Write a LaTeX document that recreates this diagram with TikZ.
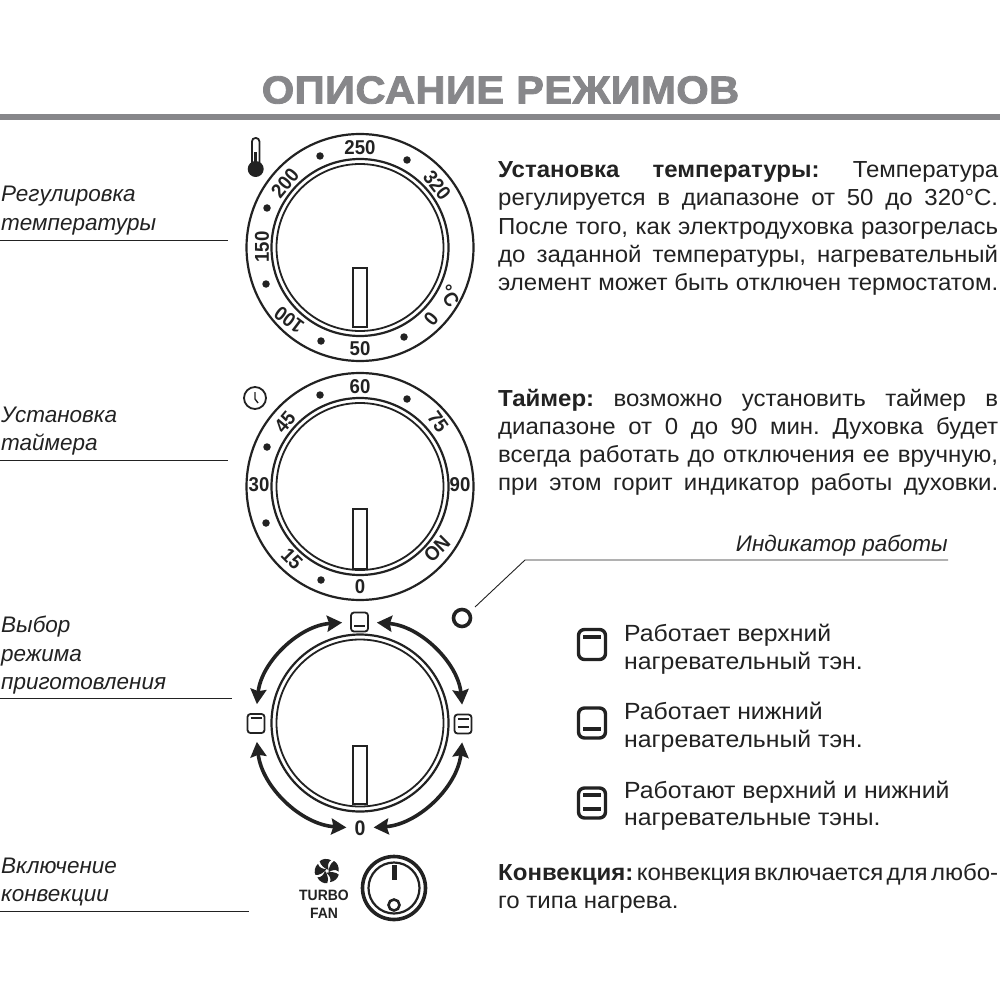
\documentclass[tikz,border=0pt]{standalone}
\usepackage{fontspec}
\usetikzlibrary{arrows.meta}
\setmainfont{Liberation Sans}
\newfontfamily\titlefont[FakeStretch=1.07,FakeBold=2.2,LetterSpace=1]{Liberation Sans Bold}
\newfontfamily\numfont[FakeStretch=0.93]{Liberation Sans Bold}
\newfontfamily\wide[FakeStretch=1.06]{Liberation Sans}
\newfontfamily\para[FakeStretch=1.035]{Liberation Sans}
\newfontfamily\parabold[FakeStretch=1.035]{Liberation Sans Bold}
\newcommand{\jl}[1]{\makebox[500pt][s]{#1}}
\newcommand{\bb}[1]{{\parabold #1}}
\definecolor{ink}{HTML}{222222}
\definecolor{headgray}{HTML}{87878A}
\tikzset{
  txt/.style={inner sep=0pt,anchor=base west,text=ink,font=\fontsize{23.4}{26}\selectfont\wide},
  ptxt/.style={inner sep=0pt,anchor=base west,text=ink,font=\fontsize{23.2}{26}\selectfont\para},
  lab/.style={inner sep=0pt,anchor=base west,text=ink,font=\fontsize{22.5}{26}\selectfont\itshape},
  num/.style={inner sep=0pt,text=ink,font=\fontsize{20}{22}\selectfont\numfont},
  ring/.style={draw=ink,line width=2.2pt},
  innerring/.style={draw=ink,line width=1.8pt},
  pointer/.style={draw=ink,fill=white,line width=2pt},
  dotmark/.style={fill=ink,circle,inner sep=0pt,minimum size=7.5pt},
  rule/.style={draw=ink,line width=0.9pt},
  smallicon/.style={draw=ink,fill=white,line width=1.8pt,rounded corners=3pt,minimum width=17pt,minimum height=19pt,inner sep=0pt},
  bigicon/.style={draw=ink,fill=white,line width=3.4pt,rounded corners=6pt,minimum width=27pt,minimum height=30pt,inner sep=0pt},
  dbl/.style={draw=ink,line width=3.6pt,{Stealth[length=15pt,width=16pt,inset=2pt]}-{Stealth[length=15pt,width=16pt,inset=2pt]}},
}
\begin{document}
\begin{tikzpicture}[x=1pt,y=-1pt]
\useasboundingbox (0,0) rectangle (1000,1000);
\fill[white] (0,0) rectangle (1000,1000);
% title
\node[inner sep=0pt,text=headgray,font=\fontsize{39}{44}\selectfont\titlefont] (title) at (500.5,90) {ОПИСАНИЕ РЕЖИМОВ};
\fill[headgray] (0,114.5) rectangle (1000,120);
% left labels
\node[lab] (l1a) at (1,202) {Регулировка};
\node[lab] (l1b) at (1,230) {температуры};
\draw[rule] (0,240.5) -- (228,240.5);
\node[lab] (l2a) at (1,422) {Установка};
\node[lab] (l2b) at (1,450) {таймера};
\draw[rule] (0,460.5) -- (228,460.5);
\node[lab] (l3a) at (1,632) {Выбор};
\node[lab] (l3b) at (1,661) {режима};
\node[lab] (l3c) at (1,689) {приготовления};
\draw[rule] (0,698.5) -- (232,698.5);
\node[lab] (l4a) at (1,873) {Включение};
\node[lab] (l4b) at (1,901) {конвекции};
\draw[rule] (0,911.5) -- (249,911.5);
% dial 1
\draw[ring] (360,247.5) circle (113.5);
\draw[ring] (360,247.5) circle (88.5);
\draw[innerring] (360,247.5) circle (83.5);
\draw[pointer] (353,268) rectangle (367,327);
\foreach \x/\y in {320/156,407/160,267/208,266/284,321/341,404/337}{\node[dotmark] at (\x,\y) {};}
\node[num] (a250) at (360,148) {250};
\node[num,rotate=-52] (a320) at (437,185) {320};
\node[num,rotate=50] (a200) at (285,183) {200};
\node[num,rotate=90] (a150) at (262,247) {150};
\node[num,rotate=143] (a100) at (289,320) {100};
\node[num,rotate=-130] (a0) at (431,319) {0};
\node[num,rotate=-58] (aC) at (449,296) {°C};
\node[num] (a50) at (360,349) {50};
% thermometer
\draw[ink,line width=1.8pt,fill=white,rounded corners=3.4pt] (252,166) -- (252,138) -- (259.4,138) -- (259.4,166);
\fill[ink] (255.7,169) circle (8);
\fill[ink] (254.2,152) rectangle (257.2,165);
% dial 2
\draw[ring] (360,486.5) circle (113.5);
\draw[ring] (360,486.5) circle (88.5);
\draw[innerring] (360,486.5) circle (83.5);
\draw[pointer] (353,509) rectangle (367,569);
\foreach \x/\y in {320/395,407/399,267/447,266/523,321/580}{\node[dotmark] at (\x,\y) {};}
\node[num] (b60) at (360,387) {60};
\node[num,rotate=-55] (b75) at (438,422) {75};
\node[num] (b90) at (460,485) {90};
\node[num,rotate=45] (bON) at (437,549) {ON};
\node[num] (b0) at (360,587) {0};
\node[num,rotate=-45] (b15) at (292,559) {15};
\node[num] (b30) at (259,485) {30};
\node[num,rotate=50] (b45) at (285,422) {45};
% clock
\draw[ink,line width=1.8pt] (255,398) circle (11);
\draw[ink,line width=1.4pt] (255,392) -- (255,399) -- (258,403);
% dial 3
\draw[ring] (360,723) circle (88.5);
\draw[innerring] (360,723) circle (83.5);
\draw[pointer] (353,746) rectangle (367,804);
% indicator
\draw[ink,line width=3.6pt] (462,618) circle (8.5);
\coordinate (indA) at (475,607);
\coordinate (indB) at (525,560);
\coordinate (indC) at (948,560);
\draw[rule] (indA) -- (indB) -- (indC);
\node[lab,anchor=base east] (ind) at (948,551) {Индикатор работы};
% mode icons
\node[smallicon] (top) at (359.5,622) {};
\draw[ink,line width=2pt] (354,626) -- (365,626);
\node[smallicon] (left) at (256,723.5) {};
\draw[ink,line width=2pt] (250.5,718) -- (261.5,718);
\node[smallicon] (right) at (463,724) {};
\draw[ink,line width=2pt] (457.5,719) -- (468.5,719);
\draw[ink,line width=2pt] (457.5,727) -- (468.5,727);
\node[num,font=\fontsize{21}{22}\selectfont\numfont] (zero) at (360,828) {0};
\draw[dbl,shorten <=8pt,shorten >=9pt] (top.west) to[bend right=40] (left.north);
\draw[dbl,shorten <=8pt,shorten >=9pt] (top.east) to[bend left=40] (right.north);
\draw[dbl,shorten <=8pt,shorten >=8pt] (left.south) to[bend right=40] (zero.west);
\draw[dbl,shorten <=8pt,shorten >=8pt] (right.south) to[bend left=40] (zero.east);
% right column
\node[ptxt] (p1a) at (498,178) {\jl{\bb{Установка\hfill температуры:}\hfill Температура}};
\node[ptxt] (p1b) at (498,206) {\jl{регулируется\hfill в\hfill диапазоне\hfill от\hfill 50\hfill до\hfill 320°С.}};
\node[ptxt] (p1c) at (498,234) {\jl{После\hfill того,\hfill как\hfill электродуховка\hfill разогрелась}};
\node[ptxt] (p1d) at (498,262) {\jl{до\hfill заданной\hfill температуры,\hfill нагревательный}};
\node[ptxt] (p1e) at (498,290) {\jl{элемент\hfill может\hfill быть\hfill отключен\hfill термостатом.}};
\node[ptxt] (p2a) at (498,406) {\jl{\bb{Таймер:}\hfill возможно\hfill установить\hfill таймер\hfill в}};
\node[ptxt] (p2b) at (498,434) {\jl{диапазоне\hfill от\hfill 0\hfill до\hfill 90\hfill мин.\hfill Духовка\hfill будет}};
\node[ptxt] (p2c) at (498,462) {\jl{всегда\hfill работать\hfill до\hfill отключения\hfill ее\hfill вручную,}};
\node[ptxt] (p2d) at (498,490) {\jl{при\hfill этом\hfill горит\hfill индикатор\hfill работы\hfill духовки.}};
% legend
\node[bigicon] (i1) at (592,644.5) {};
\draw[ink,line width=4pt] (583,637) -- (601,637);
\node[bigicon] (i2) at (592,723) {};
\draw[ink,line width=4pt] (583,729) -- (601,729);
\node[bigicon] (i3) at (592,803) {};
\draw[ink,line width=4pt] (583,795) -- (601,795);
\draw[ink,line width=4pt] (583,809) -- (601,809);
\node[txt] (g1a) at (624,641) {Работает верхний};
\node[txt] (g1b) at (624,669) {нагревательный тэн.};
\node[txt] (g2a) at (624,719) {Работает нижний};
\node[txt] (g2b) at (624,747) {нагревательный тэн.};
\node[txt] (g3a) at (624,798) {Работают верхний и нижний};
\node[txt] (g3b) at (624,825) {нагревательные тэны.};
\node[ptxt] (p3a) at (498,880) {\jl{\bb{Конвекция:}\hfill конвекция\hfill включается\hfill для\hfill любо-}};
\node[ptxt] (p3b) at (498,908) {го типа нагрева.};
% fan
\foreach \a in {0,72,...,288}{
  \fill[ink,shift={(327,871)},rotate=\a] (1.5,1.2) .. controls (1.5,-3) and (3.5,-8) .. (7,-10) .. controls (10,-8.5) and (12.5,-4) .. (11.5,0.5) .. controls (8.5,-2) and (5,-1) .. (1.5,1.2) -- cycle;
}
\node[inner sep=0pt,text=ink,font=\fontsize{15}{16}\selectfont\numfont] (turbo) at (324,895) {TURBO};
\node[inner sep=0pt,text=ink,font=\fontsize{15}{16}\selectfont\numfont] (fan) at (324,913) {FAN};
% switch
\draw[ink,line width=3.6pt] (394,888) circle (31.5);
\draw[ink,line width=2.2pt] (394,888) circle (25.5);
\draw[ink,line width=5pt] (394,865) -- (394,880);
\draw[ink,line width=2.6pt] (394,905) circle (5.5);
\end{tikzpicture}
\end{document}
